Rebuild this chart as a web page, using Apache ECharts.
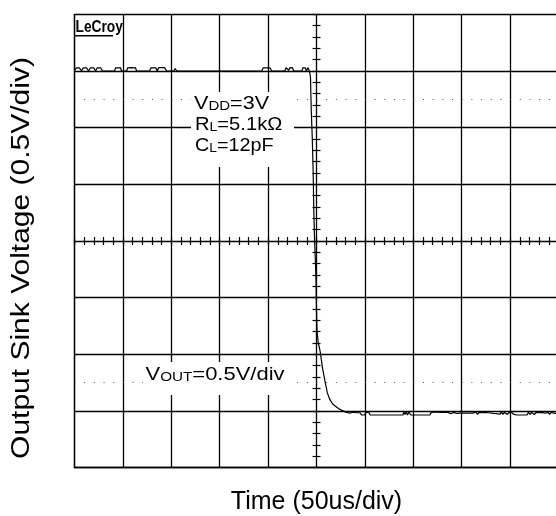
<!DOCTYPE html>
<html>
<head>
	<meta charset="utf-8">
	<script src="https://cdn.jsdelivr.net/npm/echarts@6.0.0/dist/echarts.min.js"></script>
	<style>
		html, body { margin:0; padding:0; background:#fff; }
		#chart { width:556px; height:516px; }
	</style>
</head>
<body>
<div id="chart"></div>
<script>
	// scope trace, time in us, voltage in V (0.5V/div, 50us/div)
	var highTrace = [
		[-250, 3.005], [-248, 3.028], [-245, 3.028], [-242.7, 3.0], [-241, 3.028],
		[-237.5, 3.028], [-235.5, 3.0], [-233.5, 3.028], [-230, 3.028], [-228.2, 3.0],
		[-226.5, 3.028], [-223, 3.028], [-221, 3.0],
		[-208.6, 3.0], [-207.5, 3.028], [-202.5, 3.028], [-201.4, 3.0],
		[-196.2, 3.0], [-195, 3.028], [-191.5, 3.03], [-187, 3.028], [-185.8, 3.0],
		[-172.4, 3.0], [-171, 3.028], [-166, 3.028], [-164.5, 3.0], [-163, 3.03],
		[-157, 3.03], [-154.8, 3.0],
		[-147.6, 3.0], [-146, 3.022], [-144.4, 3.0],
		[-56.6, 3.0], [-55, 3.028], [-48, 3.028], [-46.3, 3.0],
		[-32.8, 3.0], [-31.5, 3.028], [-29.5, 3.028], [-28.7, 3.005], [-27.6, 3.028],
		[-25, 3.03], [-23.5, 3.0],
		[-15.2, 3.0], [-14, 3.028], [-11.5, 3.028], [-10.5, 3.0], [-9.5, 3.0],
		[-8.6, 3.03], [-7.4, 3.03]
	];
	var fallTrace = [
		[-6.8, 2.98], [-6.2, 2.94], [-5.4, 2.65], [-4.3, 2.39], [-3.5, 2.13],
		[-2.8, 1.77], [-2.0, 1.51], [-1.0, 1.29], [-0.4, 1.11], [0, 0.89],
		[0.5, 0.71], [1.7, 0.61], [3.9, 0.52], [6.0, 0.39], [8.6, 0.27],
		[11.2, 0.16], [13.8, 0.10], [16.9, 0.06], [22.0, 0.026], [25.1, 0.01],
		[30.3, -0.01], [34.4, -0.02]
	];
	var lowTrace = [
		[37, -0.01], [41, -0.015], [44.8, -0.015], [46.5, -0.035], [48, -0.02],
		[49.5, -0.035], [51, -0.015], [52.5, -0.03], [54, -0.01], [55.5, -0.035],
		[60, -0.035], [89.2, -0.035], [90.3, -0.01], [91.5, -0.03], [92.6, -0.005],
		[94, -0.035], [95.4, -0.01], [97.5, -0.035],
		[117.1, -0.035], [118.6, -0.012], [120.2, -0.028], [121.7, -0.01], [123.3, -0.026],
		[124.9, -0.01], [126.4, -0.025], [128, -0.012], [129.5, -0.022], [131, -0.01],
		[133, -0.02], [135.7, -0.012], [138.8, -0.024], [141.9, -0.012], [145, -0.022],
		[148.2, -0.018], [161.6, -0.018], [163.2, -0.03], [164.7, -0.01], [166.3, -0.03],
		[167.8, -0.012], [170.9, -0.015], [172.5, -0.03], [174, -0.012], [177.1, -0.015],
		[179, -0.028], [189.5, -0.028], [191, -0.01], [192.6, -0.03], [194.1, -0.012],
		[195.7, -0.015], [197.3, -0.03], [198.8, -0.012], [201.9, -0.015], [204, -0.03],
		[207, -0.035], [217.5, -0.035], [219, -0.012], [220.6, -0.03], [222.1, -0.012],
		[223.7, -0.015], [225.3, -0.03], [226.8, -0.012], [229.9, -0.015], [231.5, -0.03],
		[233, -0.012], [236.1, -0.02], [239.2, -0.012], [240.8, -0.03], [242.3, -0.012],
		[245.4, -0.02], [247, -0.03], [250, -0.015]
	];
	var trace = highTrace.concat(fallTrace, lowTrace);

	var timeRange = [-250, 250];   // 10 div x 50us
	var voltRange = [-0.5, 3.5];   // 8 div x 0.5V
	var dotLevels = [2.75, 0.25];  // dotted rows of the scope graticule

	var gridLeft = 74.5, gridTop = 14.3, gridW = 484, gridH = 453.4;

	var chart = echarts.init(document.getElementById('chart'), null, {renderer: 'canvas'});

	var gridLine = {show: true, lineStyle: {color: '#000', width: 1.3}};
	var noteRich = {
		b: {fontSize: 18, fill: '#000', verticalAlign: 'bottom', lineHeight: 20},
		s: {fontSize: 12.5, fill: '#000', verticalAlign: 'bottom', lineHeight: 20}
	};
	function note(text, x, y, sx) {
		return {
			type: 'text', z: 101, x: x, y: y, scaleX: sx,
			style: {text: text, verticalAlign: 'middle', rich: noteRich}
		};
	}

	option = {
		animation: false,
		backgroundColor: '#fff',
		textStyle: {fontFamily: 'Liberation Sans, Arial, sans-serif', color: '#000'},
		grid: {
			left: gridLeft,
			top: gridTop,
			width: gridW,
			height: gridH,
			outerBoundsMode: 'none',
			containLabel: false
		},
		xAxis: [
			{
				type: 'value',
				min: timeRange[0], max: timeRange[1], interval: 50,
				axisLine: {show: true, onZero: false, lineStyle: {color: '#000', width: 1.3}},
				axisTick: {show: false},
				axisLabel: {show: false},
				splitLine: gridLine,
				name: 'Time (50us/div)',
				nameLocation: 'middle',
				nameGap: 22,
				nameTextStyle: {fontSize: 25, color: '#000'}
			},
			{
				// minor ticks on the centre horizontal line
				type: 'value',
				min: timeRange[0], max: timeRange[1], interval: 10,
				position: 'bottom',
				offset: -(gridH / 2 - 4),
				axisLine: {show: false, onZero: false},
				axisTick: {show: true, inside: true, length: 8, lineStyle: {color: '#000', width: 1.2}},
				axisLabel: {show: false},
				splitLine: {show: false}
			}
		],
		yAxis: [
			{
				type: 'value',
				min: voltRange[0], max: voltRange[1], interval: 0.5,
				axisLine: {show: true, onZero: false, lineStyle: {color: '#000', width: 1.3}},
				axisTick: {show: false},
				axisLabel: {show: false},
				splitLine: gridLine
			},
			{
				// minor ticks on the centre vertical line
				type: 'value',
				min: voltRange[0], max: voltRange[1], interval: 0.1,
				position: 'left',
				offset: -(gridW / 2 - 4),
				axisLine: {show: false, onZero: false},
				axisTick: {show: true, inside: true, length: 8, lineStyle: {color: '#000', width: 1.2}},
				axisLabel: {show: false},
				splitLine: {show: false}
			}
		],
		series: [
			{
				name: 'Vout',
				type: 'line',
				xAxisIndex: 0,
				yAxisIndex: 0,
				data: trace,
				showSymbol: false,
				symbol: 'none',
				silent: true,
				lineStyle: {color: '#000', width: 1.2},
				markLine: {
					silent: true,
					symbol: ['none', 'none'],
					label: {show: false},
					emphasis: {disabled: true},
					lineStyle: {color: '#555', width: 1, type: [1, gridW / 50 - 1]},
					data: dotLevels.map(function (v) { return {yAxis: v}; })
				}
			}
		],
		graphic: [
			{type: 'rect', z: 100, shape: {x: 191, y: 92, width: 103, height: 75}, style: {fill: '#fff'}},
			{type: 'rect', z: 100, shape: {x: 143, y: 362, width: 151, height: 33}, style: {fill: '#fff'}},
			note('{b|V}{s|DD}{b|=3V}', 194, 103, 1.2),
			note('{b|R}{s|L}{b|=5.1kΩ}', 195, 124, 1.12),
			note('{b|C}{s|L}{b|=12pF}', 195, 145, 1.1),
			note('{b|V}{s|OUT}{b|=0.5V/div}', 145.5, 374, 1.22),
			// y axis title, stretched like the original print
			{
				type: 'text', z: 101, x: 22, y: 258, rotation: Math.PI / 2, scaleX: 1.2,
				style: {text: 'Output Sink Voltage (0.5V/div)', fill: '#000', fontSize: 25, align: 'center', verticalAlign: 'middle'}
			},
			// LeCroy mark in the corner
			{
				type: 'text', z: 101, x: 75.5, y: 19.5, scaleX: 0.86,
				style: {text: 'LeCroy', fill: '#000', fontSize: 16, fontWeight: 'bold'}
			},
			{type: 'rect', z: 101, shape: {x: 75, y: 35, width: 38, height: 1.6}, style: {fill: '#000'}}
		]
	};

	chart.setOption(option);
</script>
</body>
</html>
